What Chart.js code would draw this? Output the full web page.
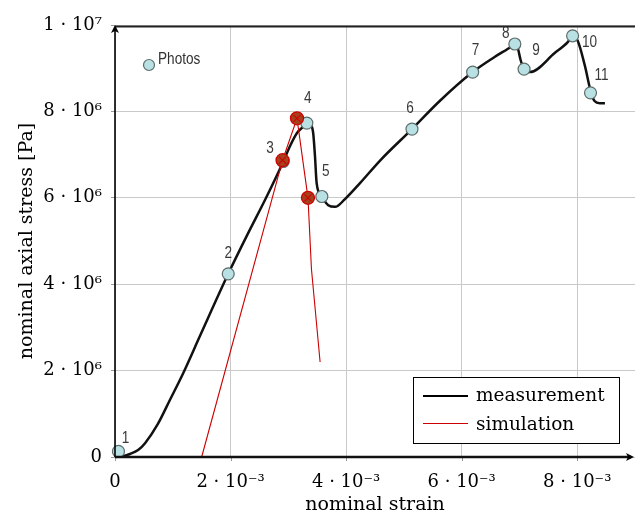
<!DOCTYPE html>
<html><head><meta charset="utf-8">
<script src="https://cdn.jsdelivr.net/npm/chart.js@4/dist/chart.umd.min.js"></script>
<style>html,body{margin:0;padding:0;background:#fff;overflow:hidden;}#wrap{width:635px;height:516px;position:relative;}canvas{display:block;}</style>
</head><body><div id="wrap"><canvas id="c" width="635" height="516"></canvas></div>
<script>
// ---- data ----
const measStrain = [0, 0.14e-3, 0.26e-3, 0.40e-3, 0.52e-3, 0.74e-3, 0.95e-3, 1.18e-3, 1.47e-3, 1.96e-3, 2.30e-3, 2.60e-3, 2.91e-3, 3.03e-3, 3.15e-3, 3.27e-3, 3.32e-3, 3.39e-3, 3.43e-3, 3.46e-3, 3.49e-3, 3.58e-3, 3.69e-3, 3.81e-3, 3.98e-3, 4.24e-3, 4.60e-3, 5.14e-3, 5.62e-3, 6.19e-3, 6.57e-3, 6.87e-3, 6.92e-3, 6.97e-3, 7.02e-3, 7.08e-3, 7.18e-3, 7.61e-3, 7.84e-3, 7.92e-3, 8.01e-3, 8.13e-3, 8.24e-3, 8.30e-3, 8.39e-3, 8.48e-3];
const measStress = [0, 0.02e6, 0.07e6, 0.16e6, 0.32e6, 0.76e6, 1.32e6, 1.94e6, 2.80e6, 4.24e6, 5.17e6, 5.96e6, 6.83e6, 7.20e6, 7.50e6, 7.66e6, 7.73e6, 7.69e6, 7.50e6, 6.99e6, 6.34e6, 6.02e6, 5.83e6, 5.79e6, 5.97e6, 6.34e6, 6.88e6, 7.59e6, 8.24e6, 8.91e6, 9.26e6, 9.51e6, 9.56e6, 9.47e6, 9.19e6, 8.98e6, 8.91e6, 9.35e6, 9.61e6, 9.75e6, 9.63e6, 9.07e6, 8.43e6, 8.24e6, 8.19e6, 8.19e6];
const simStrain = [1.50e-3, 2.90e-3, 3.15e-3, 3.34e-3, 3.40e-3, 3.55e-3];
const simStress = [0, 6.87e6, 7.84e6, 6.00e6, 4.35e6, 2.20e6];
const simMarkStrain = [2.90e-3, 3.15e-3, 3.34e-3];
const simMarkStress = [6.87e6, 7.84e6, 6.00e6];
const photoStrain = [0.06e-3, 1.96e-3, 2.91e-3, 3.32e-3, 3.58e-3, 5.14e-3, 6.19e-3, 6.92e-3, 7.08e-3, 7.92e-3, 8.23e-3];
const photoStress = [0.13e6, 4.24e6, 6.84e6, 7.73e6, 6.03e6, 7.59e6, 8.91e6, 9.56e6, 8.98e6, 9.75e6, 8.43e6];
const photoLabels = ['1','2','3','4','5','6','7','8','9','10','11'];
const xTickValues = [0, 2e-3, 4e-3, 6e-3, 8e-3];
const yTickValues = [0, 2e6, 4e6, 6e6, 8e6, 1e7];
const seriesNames = ['measurement', 'simulation'];
const photosKeyText = 'Photos';

// ---- styles (pixel offsets of the photo numbers relative to their marker) ----
const photoLabelOffsets = [[7,-13],[0,-20],[-13,-13],[1,-24],[4,-25],[-2,-21],[3,-21],[-9,-10],[12,-18],[17,7],[11,-17]];

const SUP = {'0':'⁰','1':'¹','2':'²','3':'³','4':'⁴','5':'⁵','6':'⁶','7':'⁷','8':'⁸','9':'⁹','-':'⁻'};
function sci(v){
  if (Math.abs(v) < 1e-15) return '0';
  const e = Math.floor(Math.log10(Math.abs(v)) + 1e-9);
  const m = Math.round(v / Math.pow(10, e) * 100) / 100;
  return m + ' · 10' + String(e).split('').map(c => SUP[c]).join('');
}
function near(v, list){ return list.some(t => Math.abs(t - v) <= Math.abs(t) * 1e-6 + 1e-12); }

const pts = (xs, ys) => xs.map((x, i) => ({x, y: ys[i]}));

const SERIF = 'DejaVu Serif';
Chart.defaults.font.family = SERIF;
Chart.defaults.color = '#000';

const decor = {
  id: 'decor',
  afterDatasetsDraw(chart){
    const ctx = chart.ctx;
    const meta = chart.getDatasetMeta(1);
    ctx.save();
    ctx.fillStyle = '#3a3a3a';
    ctx.font = '16px "Liberation Sans", Arial, sans-serif';
    ctx.textAlign = 'center';
    ctx.textBaseline = 'middle';
    meta.data.forEach((p, i) => {
      const o = photoLabelOffsets[i];
      ctx.save();
      ctx.translate(p.x + o[0], p.y + o[1]);
      ctx.scale(0.85, 1);
      ctx.fillText(photoLabels[i], 0, 0);
      ctx.restore();
    });
    ctx.restore();
  },
  afterDraw(chart){
    const ctx = chart.ctx;
    const a = chart.chartArea;
    const xs = chart.scales.x;
    ctx.save();
    // small tick marks below the x axis
    ctx.strokeStyle = '#999'; ctx.lineWidth = 1;
    xTickValues.forEach(v => {
      const px = Math.round(xs.getPixelForValue(v)) + 0.5;
      ctx.beginPath(); ctx.moveTo(px, a.bottom); ctx.lineTo(px, a.bottom + 4); ctx.stroke();
    });
    // top frame
    ctx.strokeStyle = '#222'; ctx.lineWidth = 2;
    ctx.beginPath(); ctx.moveTo(a.left, a.top + 1.5); ctx.lineTo(a.right, a.top + 1.5); ctx.stroke();
    // left axis with arrow
    ctx.strokeStyle = '#000'; ctx.lineWidth = 1.6;
    ctx.beginPath(); ctx.moveTo(a.left, a.bottom); ctx.lineTo(a.left, a.top + 2); ctx.stroke();
    ctx.fillStyle = '#000';
    ctx.beginPath(); ctx.moveTo(a.left, a.top); ctx.lineTo(a.left - 4, a.top + 8); ctx.lineTo(a.left, a.top + 6); ctx.lineTo(a.left + 4, a.top + 8); ctx.closePath(); ctx.fill();
    // bottom axis with arrow
    ctx.strokeStyle = '#111'; ctx.lineWidth = 2.5;
    ctx.beginPath(); ctx.moveTo(a.left, a.bottom); ctx.lineTo(a.right - 4, a.bottom); ctx.stroke();
    ctx.beginPath(); ctx.moveTo(a.right - 1, a.bottom); ctx.lineTo(a.right - 9, a.bottom - 4); ctx.lineTo(a.right - 7, a.bottom); ctx.lineTo(a.right - 9, a.bottom + 4); ctx.closePath(); ctx.fill();

    // Photos key
    const kx = a.left + 34, ky = a.top + 40;
    ctx.beginPath(); ctx.arc(kx, ky, 5.5, 0, Math.PI * 2);
    ctx.fillStyle = '#b9e0e2'; ctx.fill();
    ctx.strokeStyle = '#5d6c6c'; ctx.lineWidth = 1.2; ctx.stroke();
    ctx.save();
    ctx.translate(kx + 9, ky - 5);
    ctx.scale(0.85, 1);
    ctx.fillStyle = '#333';
    ctx.font = '16px "Liberation Sans", Arial, sans-serif';
    ctx.textAlign = 'left'; ctx.textBaseline = 'middle';
    ctx.fillText(photosKeyText, 0, 0);
    ctx.restore();

    // legend box
    const lx = 413, ly = 377, lw = 206, lh = 66;
    ctx.fillStyle = '#fff'; ctx.fillRect(lx, ly, lw, lh);
    ctx.strokeStyle = '#000'; ctx.lineWidth = 1;
    ctx.strokeRect(lx + 0.5, ly + 0.5, lw, lh);
    ctx.strokeStyle = '#000'; ctx.lineWidth = 2;
    ctx.beginPath(); ctx.moveTo(lx + 10, ly + 19); ctx.lineTo(lx + 55, ly + 19); ctx.stroke();
    ctx.strokeStyle = '#cc0000'; ctx.lineWidth = 1;
    ctx.beginPath(); ctx.moveTo(lx + 10, ly + 46.5); ctx.lineTo(lx + 55, ly + 46.5); ctx.stroke();
    ctx.fillStyle = '#000';
    ctx.font = '18.5px "' + SERIF + '"';
    ctx.textAlign = 'left'; ctx.textBaseline = 'alphabetic';
    ctx.fillText(seriesNames[0], lx + 63, ly + 24);
    ctx.fillText(seriesNames[1], lx + 63, ly + 53);
    ctx.restore();
  }
};

new Chart(document.getElementById('c'), {
  type: 'scatter',
  data: {
    datasets: [
      { label: seriesNames[0], data: pts(measStrain, measStress), showLine: true, borderColor: '#111', borderWidth: 2.5,
        pointRadius: 0, cubicInterpolationMode: 'monotone', order: 5, clip: false },
      { label: 'photos', data: pts(photoStrain, photoStress), showLine: false, pointRadius: 6, pointHoverRadius: 6,
        pointBackgroundColor: '#b9e0e2', pointBorderColor: '#5d6c6c', pointBorderWidth: 1.2, order: 4, clip: false },
      { label: seriesNames[1], data: pts(simStrain, simStress), showLine: true, borderColor: '#cc0000', borderWidth: 1.1,
        pointRadius: 0, tension: 0, order: 3, clip: false },
      { label: 'simMarks', data: pts(simMarkStrain, simMarkStress), showLine: false, pointRadius: 6.5, pointHoverRadius: 6.5,
        pointBackgroundColor: '#a4421e', pointBorderColor: '#d00000', pointBorderWidth: 1.3, order: 2, clip: false },
      { label: 'simCross', data: pts(simMarkStrain, simMarkStress), showLine: false, pointStyle: 'crossRot', pointRadius: 5, pointHoverRadius: 5,
        pointBorderColor: '#d00000', pointBorderWidth: 1.1, order: 1, clip: false }
    ]
  },
  options: {
    responsive: false, animation: false, devicePixelRatio: 1,
    layout: { autoPadding: false, padding: { top: 25, right: 0, left: 0, bottom: 0 } },
    plugins: { legend: { display: false }, tooltip: { enabled: false } },
    events: [],
    scales: {
      x: {
        type: 'linear', min: 0, max: 9e-3,
        afterBuildTicks: s => { s.ticks = xTickValues.concat([9e-3]).map(v => ({value: v})); },
        afterFit: s => { s.height = 59; s.paddingLeft = 0; s.paddingRight = 0; if (s._margins) { s._margins.left = 0; s._margins.right = 0; } },
        border: { display: false },
        grid: { color: '#c9c9c9', lineWidth: 1, drawTicks: true, tickLength: 15, tickColor: 'rgba(0,0,0,0)' },
        ticks: { autoSkip: false, maxRotation: 0, padding: 0, font: { size: 18, family: SERIF }, color: '#000',
          callback: v => near(v, xTickValues) ? sci(v) : '' },
        title: { display: true, text: 'nominal strain', font: { size: 19, family: SERIF }, color: '#000', padding: { top: 0, bottom: 0 } }
      },
      y: {
        type: 'linear', min: 0, max: 1e7,
        afterBuildTicks: s => { s.ticks = yTickValues.map(v => ({value: v})); },
        afterFit: s => { s.width = 115; s.paddingTop = 0; s.paddingBottom = 0; },
        border: { display: false },
        grid: { color: '#c9c9c9', lineWidth: 1, drawTicks: true, tickLength: 4, tickColor: '#999' },
        ticks: { autoSkip: false, padding: 9, font: { size: 18, family: SERIF }, color: '#000',
          callback: v => sci(v) },
        title: { display: true, text: 'nominal axial stress [Pa]', font: { size: 19, family: SERIF }, color: '#000', padding: { top: 16, bottom: 0 } }
      }
    }
  },
  plugins: [decor]
});
</script>
</body></html>
